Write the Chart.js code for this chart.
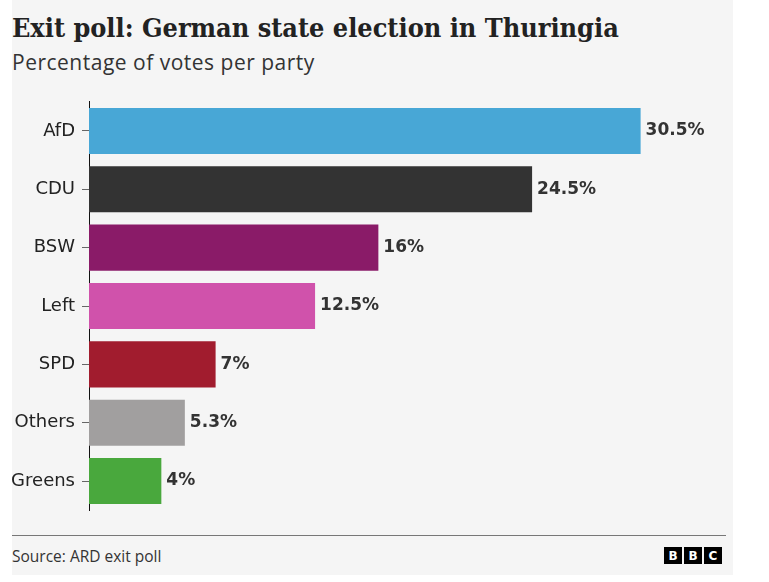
<!DOCTYPE html>
<html>
<head>
<meta charset="utf-8">
<script src="https://cdn.jsdelivr.net/npm/chart.js@4"></script>
<style>
    body { margin: 0; background: #fff; }
    #panel { position: absolute; left: 12px; top: 0; width: 721px; height: 575px; background: #f5f5f5; }
    #title { position: absolute; left: 0; top: 12px; font-family: "DejaVu Serif", serif; font-stretch: condensed; font-weight: bold; font-size: 26.8px; color: #222; white-space: nowrap; }
    #subtitle { position: absolute; left: 0; top: 48px; font-family: "Open Sans", sans-serif; font-size: 21px; letter-spacing: 0.5px; color: #333; white-space: nowrap; }
    #chartBox { position: absolute; left: 0; top: 84px; width: 721px; height: 444px; }
    #rule { position: absolute; left: 0; top: 535px; width: 714px; height: 1px; background: #777; }
    #source { position: absolute; left: 0; top: 545px; font-family: "Open Sans", sans-serif; font-size: 15.5px; color: #333; }
    #logo { position: absolute; left: 652px; top: 547px; display: flex; gap: 2px; }
    #logo span { width: 18px; height: 17px; background: #000; color: #fff; font: bold 12px "DejaVu Sans", sans-serif; display: flex; align-items: center; justify-content: center; }
</style>
</head>
<body>
<div id="panel">
    <div id="title">Exit poll: German state election in Thuringia</div>
    <div id="subtitle">Percentage of votes per party</div>
    <div id="chartBox"><canvas id="chartCanvas"></canvas></div>
    <div id="rule"></div>
    <div id="source">Source: ARD exit poll</div>
    <div id="logo"><span>B</span><span>B</span><span>C</span></div>
</div>
<script>
const parties = ["AfD", "CDU", "BSW", "Left", "SPD", "Others", "Greens"];
const votes = [30.5, 24.5, 16, 12.5, 7, 5.3, 4];
const valueLabels = ["30.5%", "24.5%", "16%", "12.5%", "7%", "5.3%", "4%"];
const partyColours = ["#48a7d6", "#333333", "#8a1b68", "#d052ab", "#a11c2e", "#a19f9f", "#49a83d"];

// writes the percentage just past the end of each bar
const barLabels = {
    id: "barLabels",
    afterDatasetsDraw(chart) {
        const ctx = chart.ctx;
        ctx.save();
        ctx.font = "bold 17px 'DejaVu Sans', sans-serif";
        ctx.fillStyle = "#333";
        ctx.textBaseline = "middle";
        chart.getDatasetMeta(0).data.forEach((bar, i) => {
            ctx.fillText(valueLabels[i], bar.x + 5, bar.y);
        });
        ctx.restore();
    }
};

const ctx = document.getElementById("chartCanvas").getContext("2d");
new Chart(ctx, {
    type: "bar",
    data: {
        labels: parties,
        datasets: [{
            data: votes,
            backgroundColor: partyColours,
            barPercentage: 0.79,
            categoryPercentage: 1
        }]
    },
    options: {
        indexAxis: "y",
        responsive: true,
        maintainAspectRatio: false,
        animation: false,
        layout: { padding: { top: 0, bottom: 0, left: 0, right: 11 } },
        plugins: {
            legend: { display: false },
            tooltip: { enabled: false }
        },
        scales: {
            x: { display: false, min: 0, max: 35 },
            y: {
                afterFit(scale) { scale.width = 77; },
                grid: { offset: false, drawOnChartArea: false, drawTicks: true, tickLength: 7, color: "#666" },
                border: { display: true, color: "#111", width: 1 },
                ticks: {
                    color: "#222",
                    padding: 7,
                    font: { family: "'DejaVu Sans', sans-serif", size: 18 }
                }
            }
        }
    },
    plugins: [barLabels]
});
</script>
</body>
</html>
